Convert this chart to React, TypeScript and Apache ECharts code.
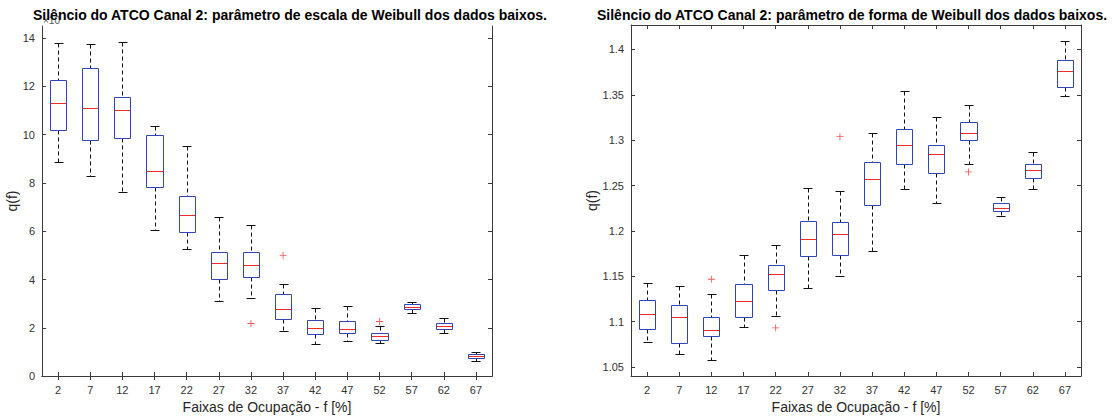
import React, { useEffect, useRef } from 'react';
import * as echarts from 'echarts';

const categories = ['2', '7', '12', '17', '22', '27', '32', '37', '42', '47', '52', '57', '62', '67'];

// Left: Weibull scale parameter
const scaleLow = [8.85, 8.27, 7.64, 6.05, 5.26, 3.13, 3.23, 1.88, 1.32, 1.47, 1.36, 2.63, 1.80, 0.63];
const scaleQ1 = [10.19, 9.77, 9.87, 7.82, 5.98, 4.02, 4.09, 2.38, 1.76, 1.80, 1.51, 2.78, 1.96, 0.74];
const scaleMed = [11.30, 11.09, 11.01, 8.51, 6.66, 4.68, 4.62, 2.76, 2.00, 1.96, 1.65, 2.86, 2.07, 0.82];
const scaleQ3 = [12.28, 12.76, 11.55, 10.00, 7.45, 5.15, 5.15, 3.38, 2.33, 2.29, 1.78, 2.97, 2.21, 0.91];
const scaleHigh = [13.80, 13.76, 13.84, 10.36, 9.53, 6.58, 6.26, 3.80, 2.82, 2.90, 2.08, 3.08, 2.39, 0.98];
const scaleOutliers = [[6, 2.18], [7, 5.0], [10, 2.26]];
const scaleTicks = [0, 2, 4, 6, 8, 10, 12, 14];

// Right: Weibull shape parameter
const shapeLow = [1.078, 1.0646, 1.0576, 1.0943, 1.1066, 1.1375, 1.1505, 1.1784, 1.2459, 1.2303, 1.2735, 1.2161, 1.2463, 1.3492];
const shapeQ1 = [1.092, 1.077, 1.0845, 1.105, 1.1353, 1.1726, 1.1734, 1.2281, 1.2738, 1.264, 1.2999, 1.2219, 1.2589, 1.359];
const shapeMed = [1.108, 1.105, 1.091, 1.1233, 1.1527, 1.1914, 1.1966, 1.2575, 1.2945, 1.2843, 1.3075, 1.2256, 1.2669, 1.3761];
const shapeQ3 = [1.124, 1.118, 1.1055, 1.142, 1.1625, 1.2115, 1.21, 1.276, 1.3122, 1.2952, 1.3198, 1.2306, 1.2735, 1.3884];
const shapeHigh = [1.1425, 1.1397, 1.130, 1.173, 1.1843, 1.2477, 1.2441, 1.3083, 1.3543, 1.3253, 1.3391, 1.2379, 1.2869, 1.4095];
const shapeOutliers = [[2, 1.1468], [4, 1.0932], [6, 1.3039], [10, 1.2651]];
const shapeTicks = [1.05, 1.1, 1.15, 1.2, 1.25, 1.3, 1.35, 1.4];

const FONT = 'Liberation Sans, Arial, Helvetica, sans-serif';
const AXIS_COLOR = '#3a3a3a';
const LABEL_COLOR = '#333';
const BOX_COLOR = '#3344bb';
const MED_COLOR = '#f22a2a';
const OUT_COLOR = '#f22a2a';

const titleLeft = 'Silêncio do ATCO Canal 2: parâmetro de escala de Weibull dos dados baixos.';
const titleRight = 'Silêncio do ATCO Canal 2: parâmetro de forma de Weibull dos dados baixos.';
const xName = 'Faixas de Ocupação - f [%]';
const yName = 'q(f)';

const rows = (lo: number[], q1: number[], med: number[], q3: number[], hi: number[]) =>
  lo.map((_, i) => [i, lo[i], q1[i], med[i], q3[i], hi[i]]);

const px = (v: number) => Math.round(v) + 0.5;

const renderBox = (params: any, api: any) => {
  const i = api.value(0);
  const pLo = api.coord([i, api.value(1)]);
  const pQ1 = api.coord([i, api.value(2)]);
  const pMed = api.coord([i, api.value(3)]);
  const pQ3 = api.coord([i, api.value(4)]);
  const pHi = api.coord([i, api.value(5)]);
  const band = api.size([1, 0])[0];
  const bw = band * 0.5;
  const cw = band * 0.28;
  const cx = pMed[0];
  const x0 = px(cx - bw / 2);
  const x1 = px(cx + bw / 2);
  const yLo = px(pLo[1]);
  const yQ1 = px(pQ1[1]);
  const yMed = px(pMed[1]);
  const yQ3 = px(pQ3[1]);
  const yHi = px(pHi[1]);
  const xc = px(cx);
  const dash = { stroke: '#111', lineWidth: 1, lineDash: [4, 3] };
  const solid = { stroke: '#111', lineWidth: 1 };
  return {
    type: 'group',
    children: [
      { type: 'line', shape: { x1: xc, y1: yHi, x2: xc, y2: yQ3 }, style: dash },
      { type: 'line', shape: { x1: xc, y1: yQ1, x2: xc, y2: yLo }, style: dash },
      { type: 'line', shape: { x1: px(cx - cw / 2), y1: yHi, x2: px(cx + cw / 2), y2: yHi }, style: solid },
      { type: 'line', shape: { x1: px(cx - cw / 2), y1: yLo, x2: px(cx + cw / 2), y2: yLo }, style: solid },
      {
        type: 'rect',
        shape: { x: x0, y: yQ3, width: x1 - x0, height: yQ1 - yQ3 },
        style: { fill: 'none', stroke: BOX_COLOR, lineWidth: 1 },
      },
      { type: 'line', shape: { x1: x0 + 0.5, y1: yMed, x2: x1 - 0.5, y2: yMed }, style: { stroke: MED_COLOR, lineWidth: 1 } },
    ],
  };
};

const crossSymbol = 'path://M-1,-0.12 L1,-0.12 L1,0.12 L-1,0.12 Z M-0.12,-1 L0.12,-1 L0.12,1 L-0.12,1 Z';

const catAxis = (gridIndex: number, top: boolean) => ({
  type: 'category',
  gridIndex,
  data: categories,
  position: top ? 'top' : 'bottom',
  boundaryGap: true,
  name: top ? '' : xName,
  nameLocation: 'middle',
  nameGap: 21,
  nameTextStyle: { fontSize: 14, color: '#262626', fontFamily: FONT },
  axisLine: { show: true, lineStyle: { color: AXIS_COLOR, width: 1 } },
  axisTick: { show: true, inside: true, length: 4, alignWithLabel: true, lineStyle: { color: AXIS_COLOR } },
  axisLabel: { show: !top, fontSize: 11, color: LABEL_COLOR, fontFamily: FONT, margin: 8 },
  splitLine: { show: false },
});

const valAxis = (
  gridIndex: number,
  right: boolean,
  min: number,
  max: number,
  ticks: number[],
  nameGap: number,
  fmt: (v: number) => string
) => ({
  type: 'value',
  gridIndex,
  position: right ? 'right' : 'left',
  min,
  max,
  name: right ? '' : yName,
  nameLocation: 'middle',
  nameGap,
  nameTextStyle: { fontSize: 14, color: '#262626', fontFamily: FONT },
  axisLine: { show: true, onZero: false, lineStyle: { color: AXIS_COLOR, width: 1 } },
  axisTick: { show: true, inside: true, length: 4, customValues: ticks, lineStyle: { color: AXIS_COLOR } },
  axisLabel: {
    show: !right,
    customValues: ticks,
    fontSize: 11,
    color: LABEL_COLOR,
    fontFamily: FONT,
    margin: 7,
    formatter: (v: number) => fmt(v),
  },
  splitLine: { show: false },
});

export default function App() {
  const ref = useRef<HTMLDivElement>(null);
  useEffect(() => {
    const chart = echarts.init(ref.current as HTMLDivElement, null, { renderer: 'svg' });
    const option: any = {
      animation: false,
      backgroundColor: '#fff',
      title: [
        {
          text: titleLeft,
          left: 28,
          top: 3,
          textStyle: { fontSize: 14, fontWeight: 'bold', color: '#000', fontFamily: FONT },
          z: 10,
        },
        {
          text: titleRight,
          left: 592,
          top: 3,
          textStyle: { fontSize: 14, fontWeight: 'bold', color: '#000', fontFamily: FONT },
          z: 10,
        },
      ],
      graphic: [
        {
          type: 'text',
          left: 43,
          top: 15,
          z: 1,
          style: { text: '×10', fontSize: 10, fill: '#555', fontFamily: FONT },
        },
      ],
      grid: [
        { left: 42, top: 26, width: 450, height: 354, containLabel: false },
        { left: 631, top: 25, width: 450, height: 356, containLabel: false },
      ],
      xAxis: [catAxis(0, false), catAxis(0, true), catAxis(1, false), catAxis(1, true)],
      yAxis: [
        valAxis(0, false, 0, 14.5, scaleTicks, 17, (v) => String(Math.round(v))),
        valAxis(0, true, 0, 14.5, scaleTicks, 17, (v) => String(Math.round(v))),
        valAxis(1, false, 1.04, 1.427, shapeTicks, 26, (v) => String(Math.round(v * 100) / 100)),
        valAxis(1, true, 1.04, 1.427, shapeTicks, 26, (v) => String(Math.round(v * 100) / 100)),
      ],
      series: [
        {
          type: 'custom',
          xAxisIndex: 0,
          yAxisIndex: 0,
          renderItem: renderBox,
          encode: { x: 0, y: [1, 2, 3, 4, 5] },
          data: rows(scaleLow, scaleQ1, scaleMed, scaleQ3, scaleHigh),
          z: 3,
        },
        {
          type: 'scatter',
          xAxisIndex: 0,
          yAxisIndex: 0,
          symbol: crossSymbol,
          symbolSize: 7,
          itemStyle: { color: OUT_COLOR },
          data: scaleOutliers,
          z: 4,
        },
        {
          type: 'custom',
          xAxisIndex: 2,
          yAxisIndex: 2,
          renderItem: renderBox,
          encode: { x: 0, y: [1, 2, 3, 4, 5] },
          data: rows(shapeLow, shapeQ1, shapeMed, shapeQ3, shapeHigh),
          z: 3,
        },
        {
          type: 'scatter',
          xAxisIndex: 2,
          yAxisIndex: 2,
          symbol: crossSymbol,
          symbolSize: 7,
          itemStyle: { color: OUT_COLOR },
          data: shapeOutliers,
          z: 4,
        },
      ],
    };
    chart.setOption(option);
    return () => chart.dispose();
  }, []);
  return (
    <div
      ref={ref}
      style={{ position: 'fixed', left: 0, top: 0, width: 1119, height: 419, background: '#fff' }}
    />
  );
}
